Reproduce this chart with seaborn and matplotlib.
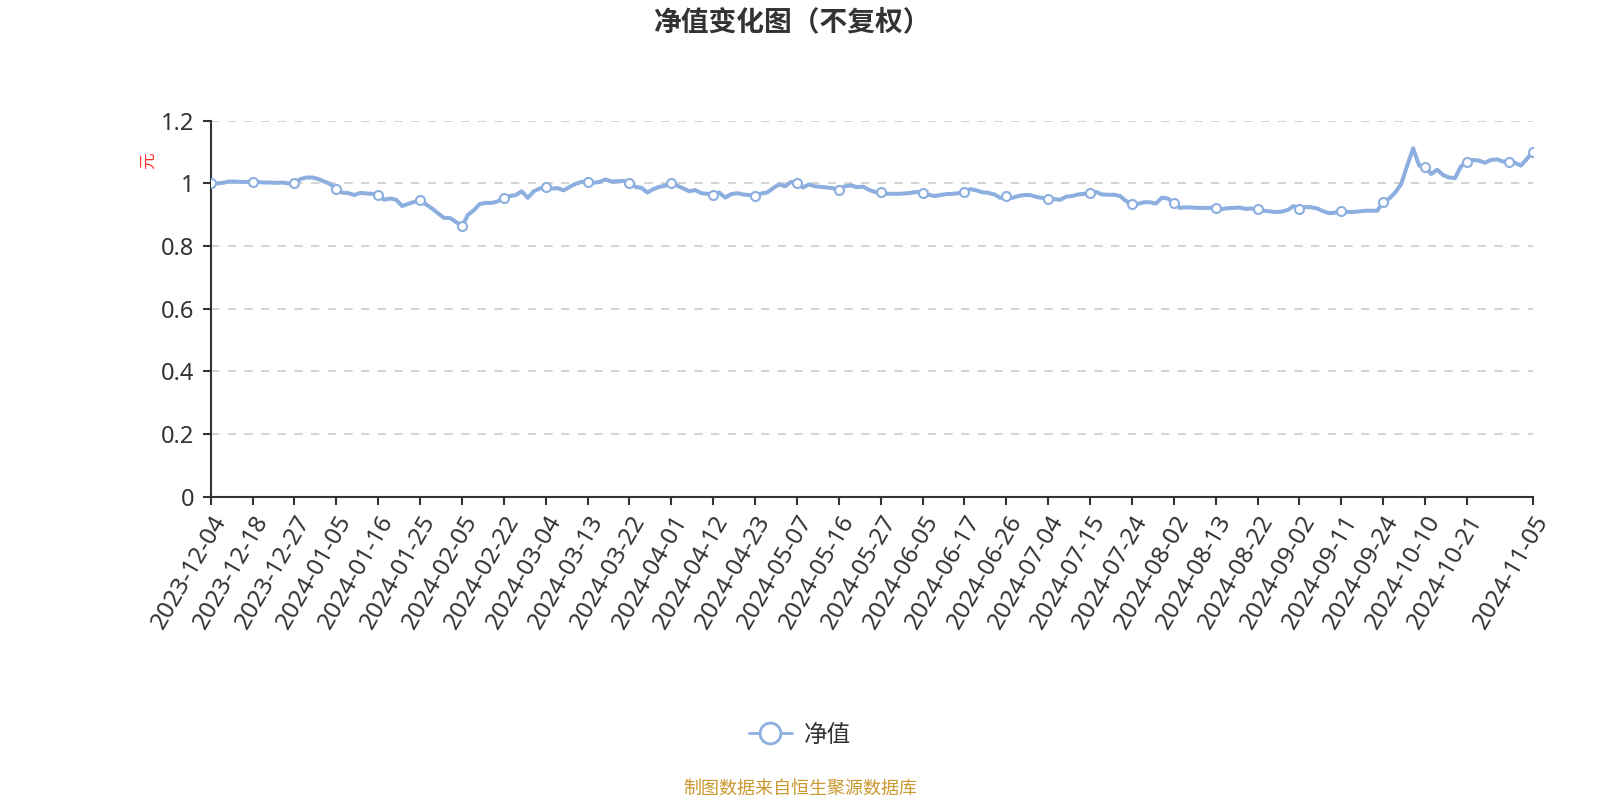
import matplotlib
matplotlib.use("Agg")
import matplotlib.pyplot as plt
from matplotlib.lines import Line2D
import seaborn as sns
import pandas as pd

# ---- data ----
tick_labels = ["2023-12-04", "2023-12-18", "2023-12-27", "2024-01-05", "2024-01-16", "2024-01-25",
               "2024-02-05", "2024-02-22", "2024-03-04", "2024-03-13", "2024-03-22", "2024-04-01",
               "2024-04-12", "2024-04-23", "2024-05-07", "2024-05-16", "2024-05-27", "2024-06-05",
               "2024-06-17", "2024-06-26", "2024-07-04", "2024-07-15", "2024-07-24", "2024-08-02",
               "2024-08-13", "2024-08-22", "2024-09-02", "2024-09-11", "2024-09-24", "2024-10-10",
               "2024-10-21", "2024-11-05"]
tick_positions = [0, 7, 14, 21, 28, 35, 42, 49, 56, 63, 70, 77, 84, 91, 98, 105, 112, 119, 126,
                  133, 140, 147, 154, 161, 168, 175, 182, 189, 196, 203, 210, 221]
marker_positions = [0, 7, 14, 21, 28, 35, 42, 49, 56, 63, 70, 77, 84, 91, 98, 105, 112, 119, 126,
                    133, 140, 147, 154, 161, 168, 175, 182, 189, 196, 203, 210, 217, 221]

nav = [
    1.000, 1.000, 1.002, 1.006, 1.006, 1.005, 1.005, 1.006, 1.004, 1.003,
    1.003, 1.002, 1.003, 1.000, 1.002, 1.014, 1.019, 1.019, 1.014, 1.006,
    0.998, 0.983, 0.971, 0.969, 0.963, 0.970, 0.968, 0.967, 0.963, 0.948,
    0.952, 0.948, 0.928, 0.935, 0.941, 0.948, 0.933, 0.920, 0.905, 0.890,
    0.890, 0.877, 0.863, 0.900, 0.915, 0.935, 0.938, 0.938, 0.943, 0.954,
    0.960, 0.963, 0.975, 0.954, 0.975, 0.984, 0.989, 0.984, 0.985, 0.978,
    0.989, 0.999, 1.005, 1.006, 1.002, 1.005, 1.013, 1.006, 1.007, 1.008,
    1.002, 0.989, 0.986, 0.971, 0.982, 0.989, 0.993, 1.000, 0.993, 0.984,
    0.975, 0.979, 0.969, 0.967, 0.963, 0.971, 0.955, 0.966, 0.969, 0.965,
    0.963, 0.960, 0.968, 0.971, 0.985, 0.997, 0.991, 1.005, 1.001, 0.987,
    0.997, 0.991, 0.989, 0.987, 0.985, 0.980, 0.991, 0.994, 0.988, 0.990,
    0.980, 0.973, 0.972, 0.967, 0.967, 0.967, 0.968, 0.970, 0.973, 0.968,
    0.964, 0.960, 0.963, 0.966, 0.967, 0.969, 0.974, 0.982, 0.978, 0.972,
    0.970, 0.965, 0.954, 0.959, 0.954, 0.960, 0.963, 0.963, 0.957, 0.954,
    0.952, 0.950, 0.948, 0.958, 0.960, 0.965, 0.967, 0.968, 0.973, 0.965,
    0.964, 0.964, 0.960, 0.944, 0.935, 0.935, 0.940, 0.940, 0.936, 0.955,
    0.952, 0.938, 0.922, 0.924, 0.923, 0.922, 0.922, 0.922, 0.923, 0.918,
    0.921, 0.922, 0.923, 0.919, 0.920, 0.917, 0.913, 0.911, 0.909, 0.910,
    0.915, 0.928, 0.919, 0.925, 0.924, 0.920, 0.911, 0.905, 0.907, 0.913,
    0.909, 0.909, 0.911, 0.913, 0.913, 0.913, 0.941, 0.952, 0.971, 0.998,
    1.057, 1.112, 1.057, 1.054, 1.030, 1.044, 1.027, 1.019, 1.017, 1.055,
    1.070, 1.075, 1.073, 1.066, 1.075, 1.077, 1.070, 1.070, 1.066, 1.057,
    1.078, 1.102,
]
series_name = "净值"

# ---- style ----
sns.set_theme(style="white")
plt.rcParams["font.family"] = ["Noto Sans CJK SC", "DejaVu Sans"]
plt.rcParams["axes.unicode_minus"] = False

LINE = "#8cafe0"
TEXT = "#333333"
NUM_FONT = ["Noto Sans", "DejaVu Sans"]

df = pd.DataFrame({"idx": list(range(len(nav))), "nav": nav})

fig = plt.figure(figsize=(16, 8), dpi=100)
ax = fig.add_axes([0.1317, 0.379, 0.958 - 0.1317, 0.849 - 0.379])

sns.lineplot(data=df, x="idx", y="nav", ax=ax, color=LINE, linewidth=2.9,
             marker="o", markevery=marker_positions, markersize=6.5,
             markerfacecolor="white", markeredgecolor=LINE, markeredgewidth=1.5,
             legend=False, zorder=3)

ax.set_xlim(0, len(nav) - 1)
ax.set_ylim(0, 1.2)
ax.set_yticks([0, 0.2, 0.4, 0.6, 0.8, 1.0, 1.2])
ax.set_yticklabels(["0", "0.2", "0.4", "0.6", "0.8", "1", "1.2"], family=NUM_FONT)
ax.set_xticks(tick_positions)
ax.set_xticklabels(tick_labels, rotation=60, ha="right", rotation_mode="anchor",
                   family=NUM_FONT)
ax.set_xlabel("")
ax.set_ylabel("")

ax.yaxis.grid(True, linestyle=(0, (5, 5)), color="#cccccc", linewidth=1.2)
ax.xaxis.grid(False)
for s in ["top", "right"]:
    ax.spines[s].set_visible(False)
for s in ["left", "bottom"]:
    ax.spines[s].set_color(TEXT)
    ax.spines[s].set_linewidth(1.5)
ax.tick_params(axis="both", which="both", colors=TEXT, length=6,
               width=1.5, direction="out", left=True, bottom=True)
ax.tick_params(axis="y", pad=6, labelsize=17)
ax.tick_params(axis="x", pad=4, labelsize=17.5)

# title
fig.text(0.495, 0.972, "净值变化图（不复权）", ha="center", va="center",
         fontsize=20, fontweight="bold", color=TEXT)
# y unit
fig.text(0.0925, 0.799, "元", ha="center", va="center", rotation=90,
         fontsize=12, color="#ff3333")

# legend
handle = Line2D([0], [0], color=LINE, linewidth=2, marker="o", markersize=15,
                markerfacecolor="white", markeredgecolor=LINE, markeredgewidth=2)
fig.legend([handle], [series_name], loc="center", bbox_to_anchor=(0.5, 0.081),
           frameon=False, fontsize=17, handlelength=1.8, handletextpad=0.5,
           labelcolor=TEXT)

# source
fig.text(0.5, 0.014, "制图数据来自恒生聚源数据库", ha="center", va="center",
         fontsize=13, color="#c9982f")

fig.savefig("out.png", dpi=100)
